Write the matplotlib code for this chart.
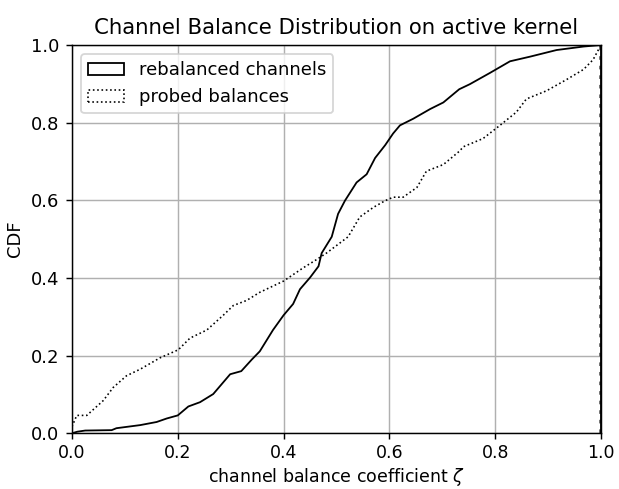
import numpy as np
import matplotlib
matplotlib.use('Agg')
import matplotlib.pyplot as plt
from matplotlib.patches import Patch

# CDF of the balance coefficient
rebal_x   = [0.0, 0.010, 0.025, 0.075, 0.084, 0.129, 0.160, 0.179, 0.200, 0.220, 0.242,
             0.267, 0.299, 0.320, 0.340, 0.355, 0.380, 0.400, 0.418, 0.431, 0.450,
             0.466, 0.472, 0.491, 0.503, 0.516, 0.538, 0.557, 0.573, 0.592, 0.607,
             0.620, 0.645, 0.677, 0.702, 0.732, 0.752, 0.790, 0.828, 0.866, 0.916,
             0.967, 1.0]
rebal_cdf = [0.0, 0.004, 0.007, 0.008, 0.013, 0.021, 0.029, 0.038, 0.046, 0.069, 0.080,
             0.101, 0.152, 0.160, 0.190, 0.211, 0.266, 0.304, 0.333, 0.371, 0.401,
             0.430, 0.464, 0.506, 0.565, 0.599, 0.646, 0.667, 0.709, 0.742, 0.772,
             0.793, 0.810, 0.835, 0.852, 0.886, 0.899, 0.928, 0.958, 0.970, 0.987,
             0.996, 1.0]

probe_x   = [0.0, 0.009, 0.028, 0.059, 0.078, 0.103, 0.129, 0.166, 0.201, 0.223, 0.255,
             0.286, 0.305, 0.330, 0.355, 0.400, 0.437, 0.462, 0.481, 0.522, 0.544,
             0.570, 0.592, 0.607, 0.626, 0.652, 0.670, 0.702, 0.732, 0.740, 0.777,
             0.809, 0.840, 0.859, 0.897, 0.935, 0.967, 0.985, 1.0]
probe_cdf = [0.017, 0.046, 0.046, 0.084, 0.118, 0.148, 0.165, 0.194, 0.215, 0.245, 0.266,
             0.304, 0.329, 0.342, 0.363, 0.392, 0.426, 0.447, 0.464, 0.506, 0.557,
             0.582, 0.599, 0.608, 0.608, 0.633, 0.675, 0.692, 0.726, 0.738, 0.759,
             0.793, 0.827, 0.861, 0.882, 0.911, 0.937, 0.962, 1.0]

dpi = 130
fig = plt.figure(figsize=(619 / dpi, 489 / dpi), dpi=dpi)
ax = fig.add_axes([0.1163, 0.114, 0.8546, 0.794])

ax.plot(rebal_x, rebal_cdf, color='black', lw=1.0, ls='-')
ax.plot(probe_x, probe_cdf, color='black', lw=0.9, ls=':')
# step histograms close down to zero at the last bin edge
ax.vlines(probe_x[-1], 0, probe_cdf[-1], color='#555555', lw=2.0, ls=':')
ax.vlines(rebal_x[-1], 0, rebal_cdf[-1], color='black', lw=1.0)

handles = [Patch(facecolor='none', edgecolor='black', lw=1.0, ls='-'),
           Patch(facecolor='none', edgecolor='black', lw=0.9, ls=':')]
ax.legend(handles, ['rebalanced channels', 'probed balances'], loc='upper left')

ax.set_xlim(0, 1)
ax.set_ylim(0, 1)
ax.grid(True)
ax.set_axisbelow(True)
ax.tick_params(axis='x', labelsize=9.6, pad=2.5)
ax.set_xlabel(r'channel balance coefficient $\zeta$', labelpad=2, fontsize=9.6)
ax.set_ylabel('CDF')
ax.set_title('Channel Balance Distribution on active kernel', fontsize=11.8)

fig.savefig('out.png', dpi=dpi)
